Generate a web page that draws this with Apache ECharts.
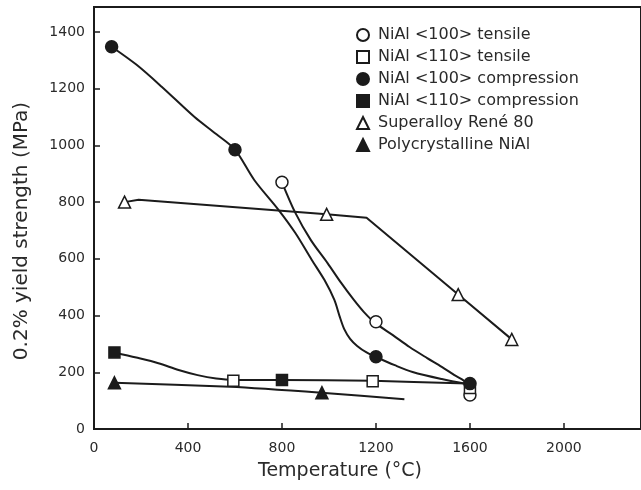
<!DOCTYPE html>
<html>
<head>
<meta charset="utf-8">
<script src="https://cdn.jsdelivr.net/npm/echarts@6/dist/echarts.min.js"></script>
<style>html,body{margin:0;padding:0;background:#fff;}#c{width:641px;height:490px;}</style>
</head>
<body>
<div id="c"></div>
<script>
// Data points (Temperature °C, 0.2% yield strength MPa)
const tensile100 = [[800, 870], [1200, 378], [1600, 120]];
const tensile110 = [[593, 170], [1186, 168], [1600, 145]];
const comp100 = [[75, 1348], [600, 985], [1200, 255], [1600, 160]];
const comp110 = [[87, 270], [800, 173]];
const rene80 = [[130, 800], [990, 757], [1550, 474], [1778, 316]];
const polyNiAl = [[87, 163], [970, 128]];

// Drawn curves
const comp100Curve = [[75, 1348], [180, 1285], [288, 1207], [428, 1100], [520, 1040], [600, 985], [682, 878], [786, 772], [857, 691], [927, 596], [981, 525], [1023, 455], [1045, 398], [1065, 352], [1090, 318], [1120, 293], [1160, 270], [1200, 254], [1280, 225], [1356, 201], [1480, 176], [1590, 158]];
const tensile100Curve = [[800, 870], [857, 762], [923, 666], [994, 585], [1052, 515], [1106, 455], [1148, 413], [1195, 375], [1272, 331], [1343, 289], [1418, 250], [1480, 219], [1534, 190], [1576, 169], [1595, 140]];
const comp110Curve = [[87, 270], [180, 252], [274, 232], [360, 208], [441, 190], [520, 178], [593, 173], [798, 173], [1186, 170], [1590, 160]];
const rene80Curve = [[130, 800], [190, 808], [990, 757], [1160, 745], [1550, 474], [1778, 316]];
const polyCurve = [[87, 163], [579, 149], [968, 128], [1321, 105]];

const legendNames = ['NiAl <100> tensile', 'NiAl <110> tensile', 'NiAl <100> compression', 'NiAl <110> compression', 'Superalloy René 80', 'Polycrystalline NiAl'];
const xTitle = 'Temperature (°C)';
const yTitle = '0.2% yield strength (MPa)';

const INK = '#1b1b1b';
const FONT = 'DejaVu Sans';

function curve(data, smooth) {
  return {
    type: 'line', data: data, smooth: smooth, showSymbol: false, silent: true, z: 1,
    lineStyle: { color: INK, width: 2 }, animation: false
  };
}
function marks(name, data, symbol, filled, size) {
  return {
    type: 'scatter', name: name, data: data, symbol: symbol, symbolSize: size, z: 5,
    itemStyle: { color: filled ? INK : '#fff', borderColor: INK, borderWidth: 1.5, opacity: 1 },
    animation: false
  };
}

const chart = echarts.init(document.getElementById('c'));
chart.setOption({
  backgroundColor: '#fff',
  animation: false,
  grid: { left: 94, top: 7, width: 560, height: 422, show: true, borderColor: INK, borderWidth: 2, backgroundColor: 'transparent' },
  xAxis: {
    type: 'value', min: 0, max: 2328, interval: 400,
    axisLine: { show: true, onZero: false, lineStyle: { color: INK, width: 2 } },
    axisTick: { show: true, inside: true, length: 6, lineStyle: { color: INK, width: 1.5 } },
    axisLabel: { showMaxLabel: false, margin: 12, color: '#2a2a2a', fontFamily: FONT, fontSize: 14, formatter: v => String(v) },
    splitLine: { show: false }
  },
  yAxis: {
    type: 'value', min: 0, max: 1488, interval: 200,
    axisLine: { show: true, lineStyle: { color: INK, width: 2 } },
    axisTick: { show: true, inside: true, length: 6, lineStyle: { color: INK, width: 1.5 } },
    axisLabel: { showMaxLabel: false, margin: 9, color: '#2a2a2a', fontFamily: FONT, fontSize: 14, formatter: v => String(v) },
    splitLine: { show: false }
  },
  legend: {
    data: legendNames, orient: 'vertical', left: 356, top: 27, padding: 0,
    itemWidth: 12, itemHeight: 12, itemGap: 6, selectedMode: false,
    textStyle: { color: '#2a2a2a', fontFamily: FONT, fontSize: 16, padding: [0, 0, 0, 4] }
  },
  graphic: [
    { type: 'text', left: 258, top: 462, style: { text: xTitle, font: '19px "DejaVu Sans"', fill: '#2a2a2a' } },
    { type: 'text', x: 22, y: 231, rotation: Math.PI / 2, style: { text: yTitle, font: '20px "DejaVu Sans"', fill: '#2a2a2a', align: 'center', verticalAlign: 'middle' } }
  ],
  series: [
    curve(comp100Curve, 0.3),
    curve(tensile100Curve, 0.3),
    curve(comp110Curve, 0.3),
    curve(rene80Curve, false),
    curve(polyCurve, 0.2),
    marks(legendNames[0], tensile100, 'circle', false, 12),
    marks(legendNames[1], tensile110, 'rect', false, 11),
    marks(legendNames[2], comp100, 'circle', true, 12),
    marks(legendNames[3], comp110, 'rect', true, 11),
    marks(legendNames[4], rene80, 'triangle', false, 12),
    marks(legendNames[5], polyNiAl, 'triangle', true, 12)
  ]
});
</script>
</body>
</html>
